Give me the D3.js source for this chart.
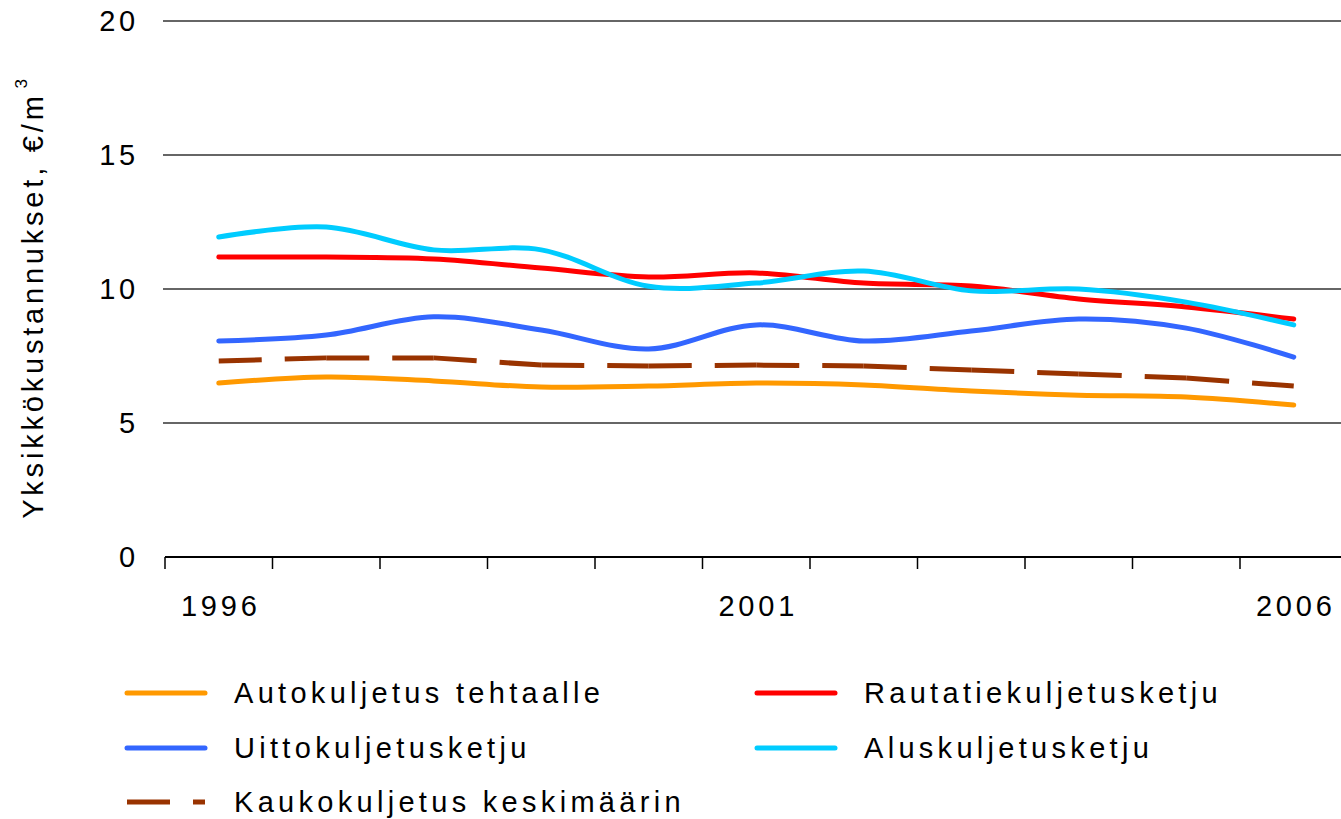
<!DOCTYPE html>
<html>
<head>
<meta charset="utf-8">
<script src="https://d3js.org/d3.v7.min.js"></script>
<style>
  body { margin: 0; background: #fff; }
  svg { display: block; font-family: "Liberation Sans", Arial, sans-serif; }
</style>
</head>
<body>
<div class="vis"></div>
<script>
  // years on the category axis
  const years = [1996, 1997, 1998, 1999, 2000, 2001, 2002, 2003, 2004, 2005, 2006];
  const labelledYears = [1996, 2001, 2006];
  const yTicks = [0, 5, 10, 15, 20];

  // cost series, €/m3
  const auto = [6.49, 6.72, 6.57, 6.34, 6.38, 6.49, 6.42, 6.19, 6.04, 5.97, 5.67];
  const rautatie = [11.19, 11.19, 11.12, 10.78, 10.45, 10.6, 10.22, 10.11, 9.63, 9.33, 8.88];
  const uitto = [8.06, 8.28, 8.96, 8.47, 7.76, 8.66, 8.06, 8.43, 8.88, 8.54, 7.46];
  const alus = [11.94, 12.31, 11.46, 11.46, 10.1, 10.22, 10.67, 9.93, 10.0, 9.51, 8.66];
  const kauko = [7.31, 7.43, 7.43, 7.16, 7.13, 7.16, 7.13, 6.98, 6.83, 6.68, 6.38];

  const names = ["Autokuljetus tehtaalle", "Rautatiekuljetusketju", "Uittokuljetusketju",
                 "Aluskuljetusketju", "Kaukokuljetus keskimäärin"];

  const series = [
    {name: names[0], values: auto, color: "#FF9900", dashed: false},
    {name: names[1], values: rautatie, color: "#FF0000", dashed: false},
    {name: names[2], values: uitto, color: "#3366FF", dashed: false},
    {name: names[3], values: alus, color: "#00CCFF", dashed: false},
    {name: names[4], values: kauko, color: "#993300", dashed: true}
  ];

  const fs = 29, ls = 3.8;
  const width = 1341, height = 819;
  const svg = d3.select('.vis').append('svg')
    .attr("width", width).attr("height", height);

  const x = d3.scaleBand().domain(years).range([165, 165 + 11 * 107.5]);
  const y = d3.scaleLinear().domain([0, 20]).range([557, 21]);
  const cx = d => x(d) + x.bandwidth() / 2;

  // grid lines
  svg.selectAll("line.grid")
    .data(yTicks.filter(d => d > 0))
    .join("line")
    .attr("class", "grid")
    .attr("x1", 163).attr("x2", width)
    .attr("y1", d => y(d)).attr("y2", d => y(d))
    .attr("stroke", "#333").attr("stroke-width", 1.5);

  // y labels
  svg.selectAll("text.ytick")
    .data(yTicks)
    .join("text")
    .attr("class", "ytick")
    .attr("x", 139).attr("y", d => y(d) + 10)
    .attr("text-anchor", "end")
    .attr("font-size", fs).attr("letter-spacing", ls)
    .text(d => d);

  // x axis
  svg.append("line")
    .attr("x1", 165).attr("x2", width)
    .attr("y1", y(0)).attr("y2", y(0))
    .attr("stroke", "#000").attr("stroke-width", 2);
  const bounds = years.map(d => x(d));
  svg.selectAll("line.xtick")
    .data(bounds)
    .join("line")
    .attr("class", "xtick")
    .attr("x1", d => d).attr("x2", d => d)
    .attr("y1", y(0)).attr("y2", y(0) + 12)
    .attr("stroke", "#000").attr("stroke-width", 1.5);
  svg.selectAll("text.xlab")
    .data(labelledYears)
    .join("text")
    .attr("class", "xlab")
    .attr("x", d => cx(d) + 2).attr("y", 616)
    .attr("text-anchor", "middle")
    .attr("font-size", fs).attr("letter-spacing", ls)
    .text(d => d);

  // y title
  const yt = svg.append("text")
    .attr("transform", "translate(43,297) rotate(-90)")
    .attr("text-anchor", "middle")
    .attr("font-size", fs).attr("letter-spacing", ls);
  yt.append("tspan").text("Yksikkökustannukset, €/m");
  yt.append("tspan").attr("dy", -16).attr("dx", 4).attr("font-size", 17).text("3");

  // lines
  const smooth = d3.line().x((d, i) => cx(years[i])).y(d => y(d)).curve(d3.curveCardinal.tension(0));
  series.filter(s => !s.dashed).forEach(s => {
    svg.append("path")
      .attr("d", smooth(s.values))
      .attr("fill", "none")
      .attr("stroke", s.color)
      .attr("stroke-width", 5)
      .attr("stroke-linecap", "round")
      .attr("stroke-linejoin", "round");
  });
  // dashed average, pattern restarts at each data point
  series.filter(s => s.dashed).forEach(s => {
    svg.selectAll("line.dash")
      .data(d3.pairs(s.values.map((v, i) => [cx(years[i]), y(v)])))
      .join("line")
      .attr("class", "dash")
      .attr("x1", d => d[0][0]).attr("y1", d => d[0][1])
      .attr("x2", d => d[1][0]).attr("y2", d => d[1][1])
      .attr("stroke", s.color)
      .attr("stroke-width", 5)
      .attr("stroke-dasharray", "43,23");
  });

  // legend
  const legendPos = [[127, 693], [757, 693], [127, 748], [757, 748], [127, 802]];
  const leg = svg.selectAll("g.leg")
    .data(series)
    .join("g")
    .attr("class", "leg")
    .attr("transform", (d, i) => `translate(${legendPos[i][0]},${legendPos[i][1]})`);
  leg.append("line")
    .attr("x1", 0).attr("x2", 78).attr("y1", 0).attr("y2", 0)
    .attr("stroke", d => d.color)
    .attr("stroke-width", 5)
    .attr("stroke-linecap", d => d.dashed ? "butt" : "round")
    .attr("stroke-dasharray", d => d.dashed ? "43,23" : null);
  leg.append("text")
    .attr("x", 107).attr("y", 10)
    .attr("font-size", fs).attr("letter-spacing", 4.3)
    .text(d => d.name);
</script>
</body>
</html>
